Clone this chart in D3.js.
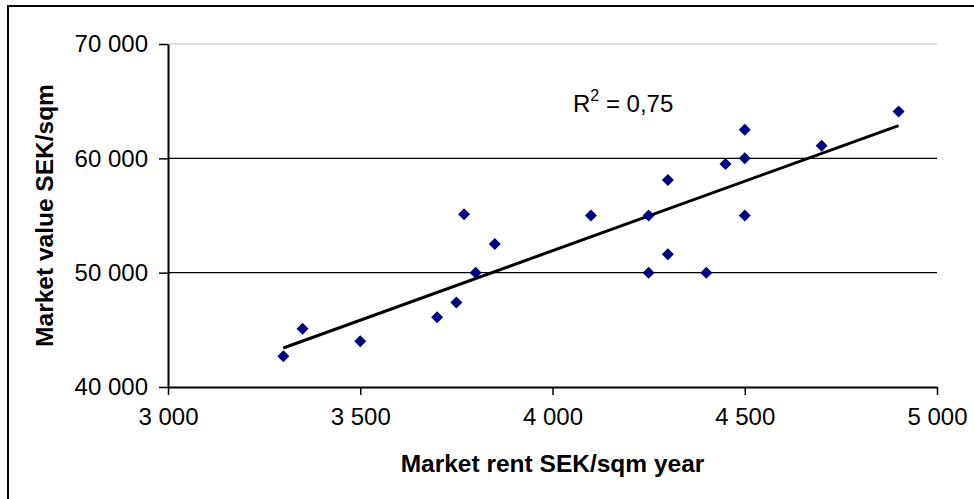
<!DOCTYPE html>
<html>
<head>
<meta charset="utf-8">
<script src="https://cdn.jsdelivr.net/npm/d3@7"></script>
<style>
  body { margin: 0; background: #fff; }
  svg { display: block; font-family: "Liberation Sans", Arial, sans-serif; }
</style>
</head>
<body>
<script>
// Data
const rent = [3300, 3350, 3500, 3700, 3750, 3770, 3800, 3850, 4100, 4250,
              4250, 4300, 4300, 4400, 4450, 4500, 4500, 4500, 4700, 4900];
const marketValue = [42700, 45100, 44000, 46100, 47400, 55100, 50000, 52500, 55000, 55000,
                     50000, 58100, 51600, 50000, 59500, 62500, 60000, 55000, 61100, 64100];
const xTicks = [3000, 3500, 4000, 4500, 5000];
const yTicks = [40000, 50000, 60000, 70000];
const r2Label = "0,75";

const data = rent.map((r, i) => ({ x: r, y: marketValue[i] }));

// --- SVG Setup ---
const width = 974, height = 499;
const margin = { top: 44, right: 37, bottom: 112, left: 168 };
const svg = d3.select("body").append("svg")
    .attr("width", width)
    .attr("height", height);

// outer frame (only left and top edges visible)
svg.append("rect")
    .attr("x", 8).attr("y", 6)
    .attr("width", 1200).attr("height", 1200)
    .attr("fill", "none")
    .attr("stroke", "#000")
    .attr("stroke-width", 2);

// Scales
const xScale = d3.scaleLinear().domain([3000, 5000]).range([margin.left, width - margin.right]);
const yScale = d3.scaleLinear().domain([40000, 70000]).range([height - margin.bottom, margin.top]);

const fmt = d => d3.format(",")(d).replace(/,/g, " ");

// Gridlines
svg.append("g")
    .selectAll("line")
    .data(yTicks.filter(t => t > 40000))
    .enter().append("line")
    .attr("x1", xScale(3000))
    .attr("x2", xScale(5000))
    .attr("y1", d => yScale(d))
    .attr("y2", d => yScale(d))
    .attr("stroke", d => d === 70000 ? "#c0c0c0" : "#000")
    .attr("stroke-width", 1.2);

// Axes
const xAxis = svg.append("g")
    .attr("transform", `translate(0, ${yScale(40000)})`)
    .call(d3.axisBottom(xScale).tickValues(xTicks).tickFormat(fmt).tickSize(8).tickSizeOuter(0).tickPadding(13));

const yAxis = svg.append("g")
    .attr("transform", `translate(${xScale(3000)}, 0)`)
    .call(d3.axisLeft(yScale).tickValues(yTicks).tickFormat(fmt).tickSize(9).tickSizeOuter(0).tickPadding(11));

[xAxis, yAxis].forEach(ax => {
    ax.select(".domain").attr("stroke", "#000").attr("stroke-width", 2);
    ax.selectAll(".tick line").attr("stroke", "#000").attr("stroke-width", 1.5);
    ax.selectAll("text")
        .attr("fill", "#000")
        .style("font-size", "24px")
        .style("font-family", "\"Liberation Sans\", Arial, sans-serif");
});

// Axis Labels
svg.append("text") // x-axis label
    .attr("x", (xScale(3000) + xScale(5000)) / 2)
    .attr("y", 472)
    .attr("text-anchor", "middle")
    .style("font-size", "24.5px")
    .style("font-weight", "bold")
    .text("Market rent SEK/sqm year");

svg.append("text") // y-axis label
    .attr("transform", `translate(53, ${(yScale(40000) + yScale(70000)) / 2}) rotate(-90)`)
    .attr("text-anchor", "middle")
    .style("font-size", "24.5px")
    .style("font-weight", "bold")
    .text("Market value SEK/sqm");

// Linear trend line (least squares)
const mx = d3.mean(data, d => d.x), my = d3.mean(data, d => d.y);
const slope = d3.sum(data, d => (d.x - mx) * (d.y - my)) / d3.sum(data, d => (d.x - mx) ** 2);
const intercept = my - slope * mx;
const xExt = d3.extent(data, d => d.x);
const line = d3.line().x(d => xScale(d)).y(d => yScale(intercept + slope * d));

svg.append("path")
    .datum(xExt)
    .attr("d", line)
    .attr("fill", "none")
    .attr("stroke", "#000")
    .attr("stroke-width", 3);

// Data Points
const diamond = d3.symbol().type(d3.symbolSquare).size(72);
svg.selectAll(".data-point")
    .data(data)
    .enter()
    .append("path")
    .attr("class", "data-point")
    .attr("d", diamond)
    .attr("transform", d => `translate(${xScale(d.x)}, ${yScale(d.y)}) rotate(45)`)
    .attr("fill", "#000080");

// R squared label
const r2 = svg.append("text")
    .attr("x", 573)
    .attr("y", 112)
    .style("font-size", "24px")
    .attr("fill", "#000");
r2.append("tspan").text("R");
r2.append("tspan").attr("dy", -11).style("font-size", "16px").text("2");
r2.append("tspan").attr("dy", 11).text(" = " + r2Label);
</script>
</body>
</html>
